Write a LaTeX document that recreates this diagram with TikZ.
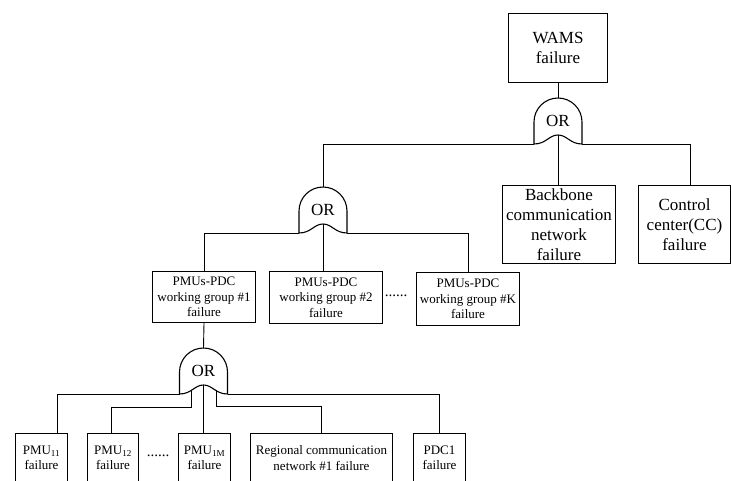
\documentclass[tikz,border=0pt]{standalone}
\usepackage{fontspec}
\setmainfont{Liberation Serif}
\begin{document}
\begin{tikzpicture}[x=1pt,y=-1pt,
  box/.style={draw, line width=1pt, inner sep=0pt, align=center, anchor=north west},
  bigtext/.style={font=\fontsize{17}{20}\selectfont},
  smalltext/.style={font=\fontsize{13}{15.5}\selectfont},
  wire/.style={line width=0.9pt},
  gateline/.style={line width=1.1pt},
  dots/.style={font=\fontsize{15}{15}\selectfont, inner sep=0pt},
  pics/orgate/.style={code={
    % OR gate drawn upward from its bottom edge
    \draw[gateline] (-24,0) -- (-24,-22)
      .. controls (-24,-35.25) and (-13.25,-46) .. (0,-46)
      .. controls (13.25,-46) and (24,-35.25) .. (24,-22) -- (24,0)
      .. controls (12,0) and (9,-9) .. (0,-9)
      .. controls (-9,-9) and (-12,0) .. (-24,0) -- cycle;
    \node[bigtext, inner sep=0pt] at (0,-23) {OR};
    \coordinate (-l) at (-24,0);
    \coordinate (-r) at (24,0);
    \coordinate (-c) at (0,-9);
    \coordinate (-t) at (0,-46);
    \coordinate (-il) at (-12,-4.4);
    \coordinate (-ir) at (13,-4.2);
    \coordinate (-dl) at (-12,13);
    \coordinate (-dr) at (13,12);
  }}]
\useasboundingbox (0,0) rectangle (731,480);
\clip (0,0) rectangle (731,480);

% top event and first level
\node[box, bigtext, minimum width=99pt, minimum height=69pt] (wams) at (508,13) {WAMS\\failure};
\pic (g1) at (558,144) {orgate};
\node[box, bigtext, minimum width=113pt, minimum height=78pt] (backbone) at (502,185)
  {Backbone\\communication\\network\\failure};
\node[box, bigtext, minimum width=92pt, minimum height=78pt] (cc) at (638,185)
  {Control\\center(CC)\\failure};

% working groups
\pic (g2) at (323,233) {orgate};
\node[box, smalltext, minimum width=103pt, minimum height=51pt] (grp1) at (152,271)
  {PMUs-PDC\\working group \#1\\failure};
\node[box, smalltext, minimum width=113pt, minimum height=52pt] (grp2) at (269,271)
  {PMUs-PDC\\working group \#2\\failure};
\node[box, smalltext, minimum width=103pt, minimum height=53pt] (grpK) at (416,272)
  {PMUs-PDC\\working group \#K\\failure};
\node[dots] (dotsA) at (396,296) {......};

% components of working group #1
\pic (g3) at (203.5,394) {orgate};
\node[box, smalltext, minimum width=52pt, minimum height=49pt] (pmu11) at (15,433)
  {PMU\textsubscript{11}\\failure};
\node[box, smalltext, minimum width=51pt, minimum height=49pt] (pmu12) at (87,433)
  {PMU\textsubscript{12}\\failure};
\node[box, smalltext, minimum width=52pt, minimum height=49pt] (pmu1M) at (178,433)
  {PMU\textsubscript{1M}\\failure};
\node[box, smalltext, minimum width=142pt, minimum height=49pt] (rcn) at (250,433)
  {Regional communication\\network \#1 failure};
\node[box, smalltext, minimum width=52pt, minimum height=49pt] (pdc) at (413,433)
  {PDC1\\failure};
\node[dots] (dotsB) at (158,456) {......};

% connectors
\draw[wire] (wams.south) -- (g1-t);
\draw[wire] (g1-l) -| (g2-t);
\draw[wire] (g1-c) -- (g1-c |- backbone.north);
\draw[wire] (g1-r) -| ([xshift=5.5pt]cc.north);

\draw[wire] (g2-l) -| (grp1.north);
\draw[wire] (g2-c) -- (g2-c |- grp2.north);
\draw[wire] (g2-r) -| (grpK.north);

\draw[wire] (grp1.south) -- (g3-t);
\draw[wire] (g3-l) -| ([xshift=16pt]pmu11.north);
\draw[wire] (g3-il) -- (g3-dl) -| ([xshift=-2pt]pmu12.north);
\draw[wire] (g3-c) -- (g3-c |- pmu1M.north);
\draw[wire] (g3-ir) -- (g3-dr) -| (rcn.north);
\draw[wire] (g3-r) -| (pdc.north);
\end{tikzpicture}
\end{document}
